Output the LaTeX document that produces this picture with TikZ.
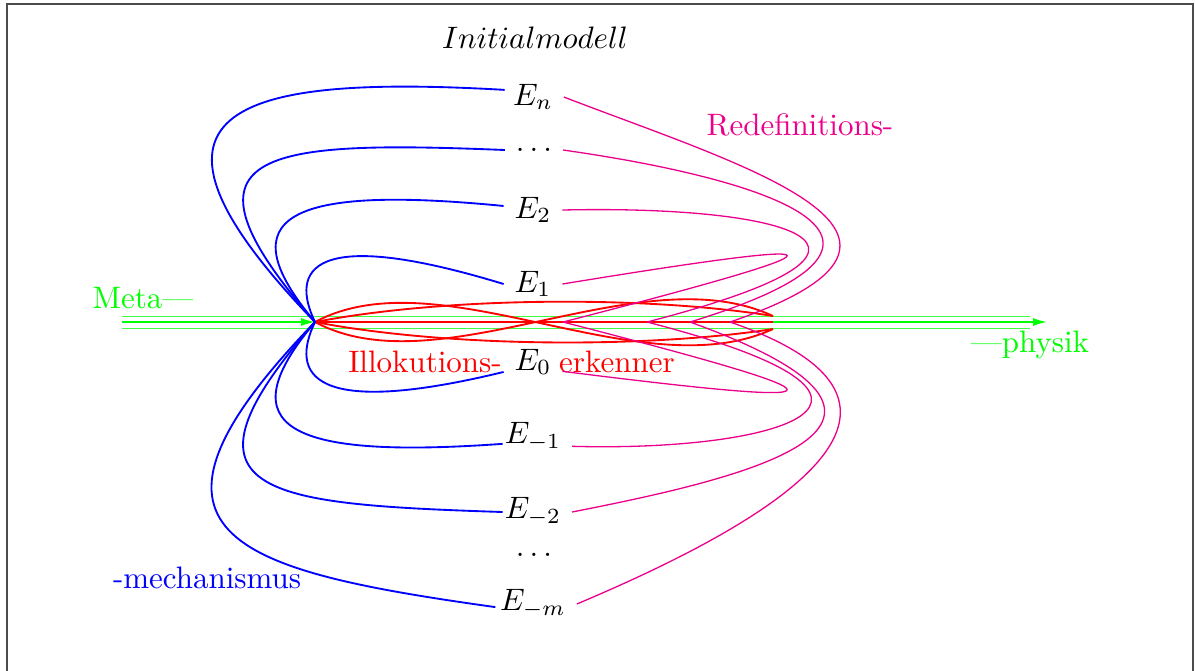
\documentclass[tikz,border=0pt]{standalone}
\usetikzlibrary{arrows.meta}
\definecolor{pinkc}{RGB}{235,0,139}
\definecolor{greenc}{RGB}{0,255,0}
\begin{document}
\begin{tikzpicture}[x=0.3226pt,y=-0.3226pt,
  bl/.style={blue,line width=0.6pt},
  pk/.style={pinkc,line width=0.42pt},
  rd/.style={red,line width=0.6pt},
  gr/.style={greenc!75,line width=0.25pt},
  grarrow/.style={greenc,line width=0.5pt,-{Latex[length=4.5pt,width=2.6pt]}},
  frame/.style={draw=gray!60!black,line width=0.6pt}]
\useasboundingbox (0,0) rectangle (1195,670);
\begin{scope}
\clip (0,0) rectangle (1195,670);
\draw[frame] (7,4) rectangle (1193,720);
\end{scope}
% nodes
\node (title) at (535,38) {$Initialmodell$};
\node (En)  at (533,97)  {$E_n$};
\node (Ed1) at (534,150) {$\dots$};
\node (E2)  at (533,210) {$E_2$};
\node (E1)  at (533,284) {$E_1$};
\node (E0)  at (533,362) {$E_0$};
\node (Em1) at (533,437) {$E_{-1}$};
\node (Em2) at (533,512) {$E_{-2}$};
\node (Ed2) at (534,555) {$\dots$};
\node (Emm) at (533,604) {$E_{-m}$};
\node[text=greenc] (meta) at (143,298) {Meta---};
\node[text=greenc] (phys) at (1030,345) {---physik};
\node[text=pinkc] (redef) at (800,125) {Redefinitions-};
\node[text=red] (illo) at (425,362) {Illokutions-};
\node[text=red] (erk) at (617,362) {erkenner};
\node[text=blue] (mech) at (207,578) {-mechanismus};
% coordinates
\coordinate (h) at (315,322);
\coordinate (gl1) at (122,316);
\coordinate (gl2) at (122,322);
\coordinate (gl3) at (122,328);
\coordinate (gr1) at (1030,316);
\coordinate (gr2) at (1047,322);
\coordinate (gr3) at (1030,328);
\coordinate (r1) at (773,316);
\coordinate (r0) at (773,322);
\coordinate (r2) at (773,329);
\coordinate (p1) at (563,322);
\coordinate (p2) at (647,322);
\coordinate (p3) at (690,322);
\coordinate (p4) at (730,322);
% green
\draw[gr] (gl1) -- (gr1);
\draw[gr] (gl3) -- (gr3);
\draw[grarrow] (gl2) -- (h);
\draw[grarrow] (h) -- (gr2);
% red
\draw[rd] (h) -- (r0);
\draw[rd] (h) .. controls (450,296) and (650,296) .. (r1);
\draw[rd] (h) .. controls (450,348) and (650,348) .. (r2);
\draw[rd] (h) .. controls (440,255) and (640,390) .. (r2);
\draw[rd] (h) .. controls (440,389) and (640,254) .. (r1);
% blue
\draw[bl] (h) .. controls (110,110) and (230,74) .. ([xshift=0.8pt,yshift=2.3pt]En.west);
\draw[bl] (h) .. controls (165,150) and (260,140) .. (Ed1.west);
\draw[bl] (h) .. controls (225,215) and (290,185) .. ([yshift=1.3pt]E2.west);
\draw[bl] (h) .. controls (290,270) and (310,225) .. (E1.west);
\draw[bl] (h) .. controls (290,374) and (310,419) .. ([yshift=-3.2pt]E0.west);
\draw[bl] (h) .. controls (225,429) and (290,459) .. ([xshift=2.8pt,yshift=-2.2pt]Em1.west);
\draw[bl] (h) .. controls (165,494) and (260,504) .. ([xshift=2.8pt]Em2.west);
\draw[bl] (h) .. controls (110,534) and (230,570) .. ([xshift=2pt,yshift=-1pt]Emm.west);
% pink
\draw[pk] (En.east) .. controls (740,165) and (985,235) .. (p4);
\draw[pk] (Ed1.east) .. controls (740,175) and (975,235) .. (p3);
\draw[pk] (E2.east) .. controls (780,205) and (945,245) .. (p2);
\draw[pk] (E1.east) .. controls (862,235) and (862,245) .. (p1);
\draw[pk] ([yshift=-3pt]E0.east) .. controls (862,409) and (862,399) .. (p1);
\draw[pk] ([yshift=-3pt]Em1.east) .. controls (780,452) and (950,400) .. (p2);
\draw[pk] (Em2.east) .. controls (745,478) and (975,425) .. (p3);
\draw[pk] (Emm.east) .. controls (740,535) and (985,410) .. (p4);
\end{tikzpicture}
\end{document}
